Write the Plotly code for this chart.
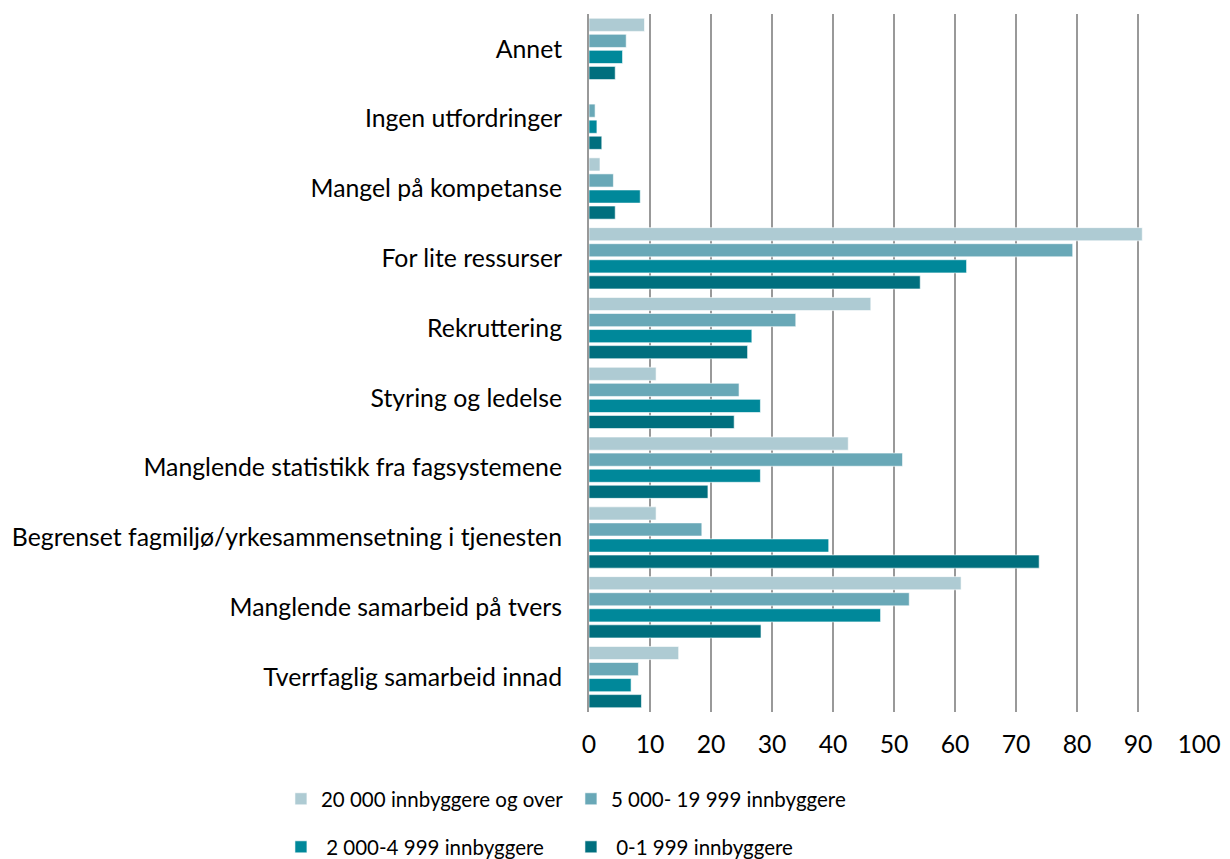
import plotly.graph_objects as go

categories = [
    "Annet",
    "Ingen utfordringer",
    "Mangel på kompetanse",
    "For lite ressurser",
    "Rekruttering",
    "Styring og ledelse",
    "Manglende statistikk fra fagsystemene",
    "Begrenset fagmiljø/yrkesammensetning i tjenesten",
    "Manglende samarbeid på tvers",
    "Tverrfaglig samarbeid innad",
]
series_names = [
    "20 000 innbyggere og over",
    "5 000- 19 999 innbyggere",
    " 2 000-4 999 innbyggere",
    " 0-1 999 innbyggere",
]
v_20000 = [9.1, 0.0, 1.8, 90.7, 46.2, 11.0, 42.5, 11.0, 61.0, 14.7]
v_5000 = [6.1, 1.0, 4.0, 79.3, 33.9, 24.6, 51.4, 18.5, 52.5, 8.1]
v_2000 = [5.5, 1.3, 8.4, 61.9, 26.7, 28.1, 28.1, 39.3, 47.8, 6.9]
v_0 = [4.3, 2.1, 4.3, 54.3, 26.0, 23.8, 19.5, 73.8, 28.2, 8.6]
x_ticks = [0, 10, 20, 30, 40, 50, 60, 70, 80, 90, 100]

colors = ["#AECBD3", "#69A8B7", "#00889A", "#006F7E"]
values = [v_20000, v_5000, v_2000, v_0]
legends = ["legend", "legend", "legend2", "legend2"]

FONT = "Lato"
FS = 24.8
LFS = 20.5
fig = go.Figure()
for name, vals, col, lg in zip(series_names, values, colors, legends):
    fig.add_trace(go.Bar(
        y=categories, x=vals, name=name, orientation="h",
        marker=dict(color=col, line=dict(color="rgba(255,255,255,0.6)", width=1)),
        legend=lg,
    ))

leg_common = dict(
    orientation="h", xanchor="left", yanchor="middle",
    font=dict(family=FONT, size=LFS, color="#000"),
    itemwidth=30, traceorder="normal", entrywidth=245, entrywidthmode="pixels",
    bgcolor="rgba(0,0,0,0)", borderwidth=0,
)

fig.update_layout(
    width=1214, height=851,
    margin=dict(l=581, r=23, t=6, b=147, autoexpand=False),
    paper_bgcolor="white", plot_bgcolor="white",
    barmode="group", bargap=0.08, bargroupgap=0.18,
    font=dict(family=FONT, size=FS, color="#000000"),
    xaxis=dict(
        range=[0, 100], tickvals=x_ticks, showgrid=True,
        gridcolor="#999999", gridwidth=2, zeroline=False,
        showline=False, ticks="", ticklabelstandoff=15,
        tickfont=dict(family=FONT, size=FS, color="#000"),
    ),
    yaxis=dict(
        autorange="reversed", showgrid=False, zeroline=False,
        showline=True, linecolor="#999999", linewidth=2,
        ticks="", ticklabelstandoff=20,
        tickfont=dict(family=FONT, size=FS, color="#000"),
    ),
    legend=dict(x=-0.505, y=-0.1246, **leg_common),
    legend2=dict(x=-0.505, y=-0.1934, **leg_common),
)

fig.write_html("out.html")
